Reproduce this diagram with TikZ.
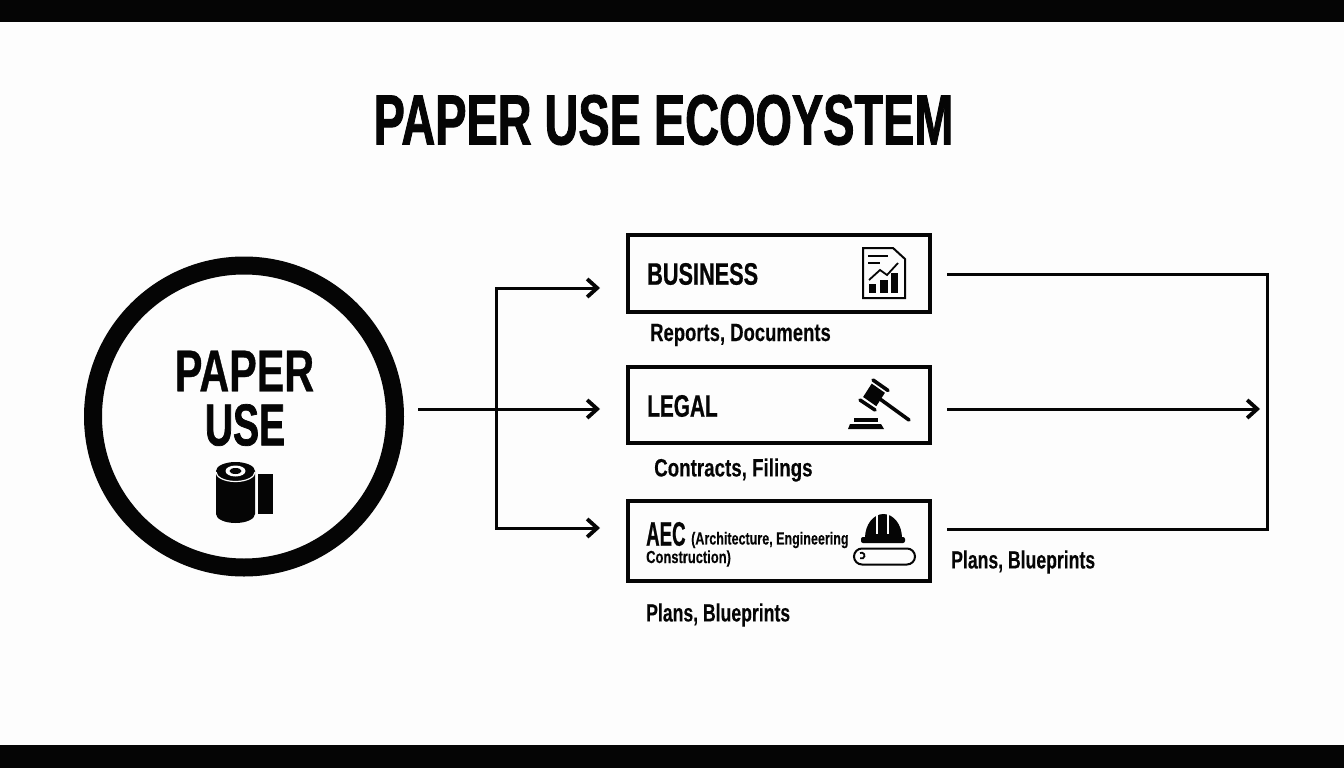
\documentclass[tikz,border=0pt]{standalone}
\usepackage{xcolor}
\usepackage{fontspec}
\usetikzlibrary{arrows.meta}
\newfontfamily\condfont[FakeStretch=0.70,BoldFeatures={FakeBold=0.6}]{Liberation Sans}
\newfontfamily\titlefont[FakeStretch=0.66,BoldFeatures={FakeBold=1.2}]{Liberation Sans}
\newfontfamily\notefont[FakeStretch=0.75,BoldFeatures={FakeBold=0.2}]{Liberation Sans}
\newfontfamily\aecfont[FakeStretch=0.61,BoldFeatures={FakeBold=0.6}]{Liberation Sans}
\definecolor{inkblack}{RGB}{5,5,5}
\definecolor{paperwhite}{RGB}{253,253,253}
\tikzset{
  boxnode/.style={draw=inkblack,line width=3.8pt,rectangle,inner sep=0pt},
  flow/.style={draw=inkblack,line width=3pt,line join=miter},
  tipped/.style={flow,-{Straight Barb[length=10pt,width=18pt,line width=3.8pt]}},
  headlabel/.style={anchor=west,inner sep=0pt,font=\condfont\bfseries,text=inkblack},
  notelabel/.style={anchor=west,inner sep=0pt,font=\notefont\bfseries\fontsize{25}{27}\selectfont,text=inkblack}
}

\begin{document}
\begin{tikzpicture}[x=1pt,y=-1pt]
  \useasboundingbox (0,0) rectangle (1344,768);
  \fill[paperwhite] (0,0) rectangle (1344,768);
  \fill[inkblack] (0,0) rectangle (1344,22);
  \fill[inkblack] (0,745) rectangle (1344,768);

  \node[anchor=center,inner sep=0pt,text=inkblack,font=\titlefont\bfseries\fontsize{71}{71}\selectfont] (title) at (663.5,120) {PAPER USE ECOOYSTEM};

  % circle on the left
  \node[draw=inkblack,line width=18pt,circle,minimum size=302pt,inner sep=0pt] (paper) at (244,416.5) {};
  \node[inner sep=0pt,text=inkblack,font=\condfont\bfseries\fontsize{59}{59}\selectfont] (papertop) at (244.5,371) {PAPER};
  \node[inner sep=0pt,text=inkblack,font=\titlefont\bfseries\fontsize{59}{59}\selectfont] (paperuse) at (245,425) {USE};

  % roll
  \fill[inkblack] (216,471) -- (216,514) arc[start angle=180,end angle=360,x radius=19.5pt,y radius=9pt] -- (255,471) arc[start angle=0,end angle=180,x radius=19.5pt,y radius=9pt];
  \draw[paperwhite,line width=1.2pt] (216,472) arc[start angle=180,end angle=360,x radius=19.5pt,y radius=9.5pt];
  \fill[paperwhite] (235.5,471) ellipse[x radius=10pt,y radius=5.5pt];
  \fill[inkblack] (235.5,471) ellipse[x radius=6pt,y radius=3pt];
  \fill[inkblack] (258,474) rectangle (273,514);

  % the three boxes
  \node[boxnode,minimum width=302pt,minimum height=77pt] (business) at (779,273.5) {};
  \node[boxnode,minimum width=302pt,minimum height=76pt] (legal) at (779,405) {};
  \node[boxnode,minimum width=302pt,minimum height=80pt] (aec) at (779,541) {};

  \node[headlabel,font=\condfont\bfseries\fontsize{31}{31}\selectfont] (businesstext) at (647,274) {BUSINESS};
  \node[headlabel,font=\aecfont\bfseries\fontsize{31}{31}\selectfont,xscale=1.1] (legaltext) at (647,406) {LEGAL};
  \node[headlabel,font=\aecfont\bfseries\fontsize{34}{34}\selectfont,xscale=0.9] (aectext) at (646,534) {AEC};
  \node[headlabel,font=\notefont\bfseries\fontsize{17.5}{18}\selectfont,xscale=0.955] (aecfull) at (691,540) {(Architecture, Engineering};
  \node[headlabel,font=\notefont\bfseries\fontsize{17.5}{18}\selectfont,xscale=0.985] (aecrest) at (646,558.5) {Construction)};

  \node[notelabel,xscale=0.985] (reports) at (650,335) {Reports, Documents};
  \node[notelabel] (contracts) at (654,470) {Contracts, Filings};
  \node[notelabel,xscale=0.94] (plansbelow) at (646,615) {Plans, Blueprints};
  \node[notelabel,xscale=0.94] (plansright) at (951,562) {Plans, Blueprints};

  % document icon
  \draw[inkblack,line width=2pt,line join=miter] (863,248) -- (893,248) -- (905,259) -- (905,298) -- (863,298) -- cycle;
  \draw[inkblack,line width=1.8pt] (868,256) -- (888,256);
  \draw[inkblack,line width=1.8pt] (868,263) -- (880,263);
  \draw[inkblack,line width=1.8pt] (869,280) -- (880,270) -- (887,275) -- (898,263);
  \fill[inkblack] (869,284) rectangle (876,293);
  \fill[inkblack] (880,280) rectangle (888,293);
  \fill[inkblack] (891,273) rectangle (898,293);

  % gavel icon
  \fill[inkblack] (863.1,397) -- (876.3,406.2) -- (884.9,392.8) -- (871.7,383.6) -- cycle;
  \draw[inkblack,line width=3.6pt,line cap=round] (873,380) -- (888,390.5);
  \draw[inkblack,line width=3.6pt,line cap=round] (860,400) -- (875,410);
  \draw[inkblack,line width=3.6pt,line cap=round] (880,399) -- (909,420);
  \fill[inkblack] (854,418) rectangle (878,422);
  \fill[inkblack] (850,424) -- (881,424) -- (884,429) -- (848,429) -- cycle;

  % helmet icon
  \fill[inkblack] (865,538) arc[start angle=180,end angle=0,x radius=18.5pt,y radius=24pt] -- cycle;
  \fill[inkblack,rounded corners=2pt] (861,537) rectangle (905,543);
  \draw[paperwhite,line width=1.2pt] (877,514) -- (877,534);
  \draw[paperwhite,line width=1.2pt] (888,514) -- (888,534);

  % scroll icon
  \draw[inkblack,line width=2pt,rounded corners=8pt] (854,548.5) rectangle (915,564.5);
  \draw[inkblack,line width=1.8pt] (860,553) arc[start angle=120,end angle=-120,radius=3pt];

  % connectors
  \coordinate (hubin) at (418,409);
  \coordinate (hub) at (496,409);
  \coordinate (businessin) at (600,288);
  \coordinate (legalin) at (600,409);
  \coordinate (aecin) at (600,528);
  \coordinate (businessout) at (947,274);
  \coordinate (legalout) at (947,409);
  \coordinate (aecout) at (947,529);
  \coordinate (rightrail) at (1267,409);
  \coordinate (railend) at (1260,409);

  \draw[tipped] (hubin) -- (legalin);
  \draw[tipped] (hub) |- (businessin);
  \draw[tipped] (hub) |- (aecin);
  \draw[flow] (businessout) -| (rightrail) |- (aecout);
  \draw[tipped] (legalout) -- (railend);
\end{tikzpicture}
\end{document}
